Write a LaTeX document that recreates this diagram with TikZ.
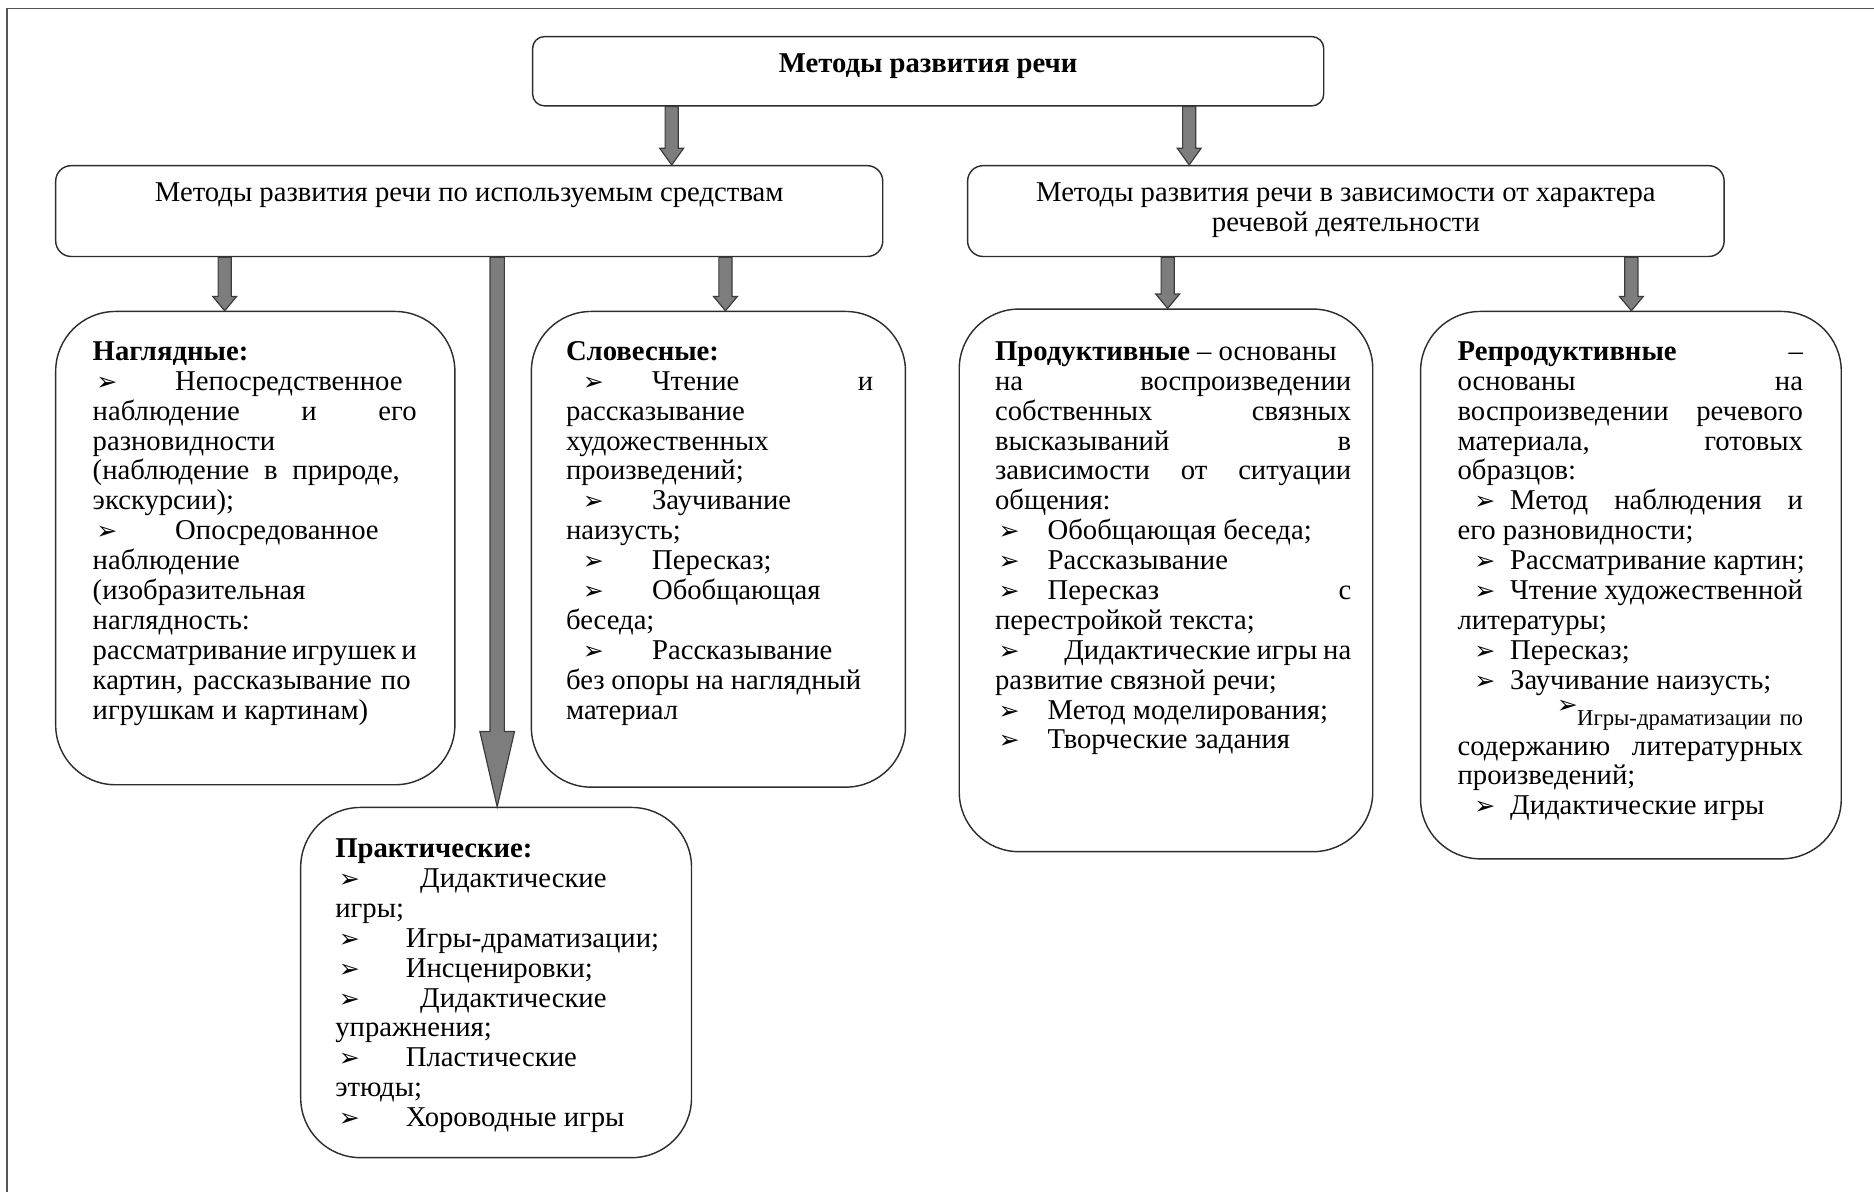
\documentclass[tikz,border=0pt]{standalone}
\usepackage{fontspec}
\setmainfont{Liberation Serif}
\newfontfamily\bulletfont{DejaVu Sans}
\usepackage{xcolor}
\usepackage{tikz}
\usetikzlibrary{calc}
\definecolor{boxline}{RGB}{45, 45, 45}
\definecolor{arrowfill}{RGB}{125, 125, 125}
\definecolor{arrowline}{RGB}{60, 60, 60}
\definecolor{framegray}{RGB}{85, 85, 85}

\newlength\padL
\newlength\padR
\newcommand\pads[2]{\setlength\padL{#1}\setlength\padR{#2}}
\newcommand\strutline{\vrule height 9pt depth 3.5pt width 0pt}
\newcommand\jline[1]{\hbox to\linewidth{\hskip\padL\strutline #1\hskip\padR}}
\newcommand\pline[1]{\hbox to\linewidth{\hskip\padL\strutline #1\hfil}}
\newcommand\mline[1]{\hbox to\linewidth{\hfil\strutline #1\hfil}}
\newcommand\arrowmark{{\bulletfont\fontsize{10.5}{10.5}\selectfont ➢}}
\newcommand\bul[2]{\hskip#1\makebox[#2][l]{\arrowmark}}

\tikzset{
  topbox/.style={draw=boxline, line width=0.6pt, rounded corners=5pt, inner sep=0pt, anchor=north west},
  midbox/.style={draw=boxline, line width=0.6pt, rounded corners=6.5pt, inner sep=0pt, anchor=north west},
  lowbox/.style={draw=boxline, line width=0.6pt, rounded corners=25pt, inner sep=0pt, anchor=north west},
  blockarrow/.style n args={3}{draw=arrowline, fill=arrowfill, line width=0.5pt,
    to path={let \p1=(\tikztostart), \p2=(\tikztotarget) in
      (\x1-#1,\y1) -- (\x1-#1,\y2+#3) -- (\x1-#2,\y2+#3) -- (\x1,\y2) -- (\x1+#2,\y2+#3) -- (\x1+#1,\y2+#3) -- (\x1+#1,\y1) -- cycle}},
}

\begin{document}
\begin{tikzpicture}[x=0.5pt, y=-0.5pt, font=\fontsize{12}{12.5}\selectfont]
    \useasboundingbox (0,0) rectangle (1568,997);
    \draw[framegray, line width=0.7pt] (6,997) -- (6,7) -- (1568,7);

    \node[topbox] (top) at (445,30) {
        \begin{minipage}[t][29pt][t]{331pt}
            \vspace*{6pt}
            \mline{\textbf{Методы развития речи}}
        \end{minipage}
    };
    \node[midbox] (means) at (46,138) {
        \begin{minipage}[t][38pt][t]{346pt}
            \vspace*{6pt}
            \mline{Методы развития речи по используемым средствам}
        \end{minipage}
    };
    \node[midbox] (activity) at (809,138) {
        \begin{minipage}[t][38pt][t]{316.5pt}
            \vspace*{6pt}
            \mline{Методы развития речи в зависимости от характера}
            \mline{речевой деятельности}
        \end{minipage}
    };

    \node[lowbox] (visual) at (46,260) {
        \begin{minipage}[t][198pt][t]{167pt}
            \pads{15.5pt}{16pt}
            \vspace*{11.5pt}
            \pline{\textbf{Наглядные:}}
            \pline{\bul{1.5pt}{33pt}Непосредственное}
            \jline{наблюдение и его}
            \pline{разновидности}
            \jline{(наблюдение в природе,\hskip7pt}
            \pline{экскурсии);}
            \pline{\bul{1.5pt}{33pt}Опосредованное}
            \pline{наблюдение}
            \pline{(изобразительная}
            \pline{наглядность:}
            \jline{рассматривание игрушек и}
            \jline{картин, рассказывание по\hskip2.5pt}
            \pline{игрушкам и картинам)}
        \end{minipage}
    };
    \node[lowbox] (verbal) at (444,260) {
        \begin{minipage}[t][199pt][t]{156.5pt}
            \pads{14.5pt}{13.5pt}
            \vspace*{11.5pt}
            \pline{\textbf{Словесные:}}
            \jline{\bul{7pt}{29pt}Чтение и}
            \pline{рассказывание}
            \pline{художественных}
            \pline{произведений;}
            \pline{\bul{7pt}{29pt}Заучивание}
            \pline{наизусть;}
            \pline{\bul{7pt}{29pt}Пересказ;}
            \pline{\bul{7pt}{29pt}Обобщающая}
            \pline{беседа;}
            \pline{\bul{7pt}{29pt}Рассказывание}
            \jline{без опоры на наглядный\hskip5pt}
            \pline{материал}
        \end{minipage}
    };
    \node[lowbox] (practical) at (251,675) {
        \begin{minipage}[t][146.5pt][t]{163.5pt}
            \pads{14.5pt}{14pt}
            \vspace*{12pt}
            \pline{\textbf{Практические:}}
            \pline{\bul{1.5pt}{34pt}Дидактические}
            \pline{игры;}
            \pline{\bul{1.5pt}{28pt}Игры-драматизации;}
            \pline{\bul{1.5pt}{28pt}Инсценировки;}
            \pline{\bul{1.5pt}{34pt}Дидактические}
            \pline{упражнения;}
            \pline{\bul{1.5pt}{28pt}Пластические}
            \pline{этюды;}
            \pline{\bul{1.5pt}{28pt}Хороводные игры}
        \end{minipage}
    };
    \node[lowbox] (productive) at (802,258) {
        \begin{minipage}[t][227pt][t]{173pt}
            \pads{15pt}{9pt}
            \vspace*{12.5pt}
            \pline{\textbf{Продуктивные} – основаны}
            \jline{на воспроизведении}
            \jline{собственных связных}
            \jline{высказываний в}
            \jline{зависимости от ситуации}
            \pline{общения:}
            \pline{\bul{1.5pt}{20.5pt}Обобщающая беседа;}
            \pline{\bul{1.5pt}{20.5pt}Рассказывание}
            \jline{\bul{1.5pt}{20.5pt}Пересказ с}
            \pline{перестройкой текста;}
            \jline{\bul{1.5pt}{27.5pt}Дидактические игры на}
            \pline{развитие связной речи;}
            \pline{\bul{1.5pt}{20.5pt}Метод моделирования;}
            \pline{\bul{1.5pt}{20.5pt}Творческие задания}
        \end{minipage}
    };
    \node[lowbox] (reproductive) at (1188,260) {
        \begin{minipage}[t][229pt][t]{176pt}
            \pads{15.5pt}{16pt}
            \vspace*{11.5pt}
            \jline{\textbf{Репродуктивные} –}
            \jline{основаны на}
            \jline{воспроизведении речевого}
            \jline{материала, готовых}
            \pline{образцов:}
            \jline{\bul{7pt}{15pt}Метод наблюдения и}
            \pline{его разновидности;}
            \pline{\bul{7pt}{15pt}Рассматривание картин;}
            \jline{\bul{7pt}{15pt}Чтение художественной}
            \pline{литературы;}
            \pline{\bul{7pt}{15pt}Пересказ;}
            \pline{\bul{7pt}{15pt}Заучивание наизусть;}
            \jline{\hskip41.5pt\makebox[8.5pt][l]{\raisebox{5pt}{\arrowmark}}{\fontsize{9.5}{9.5}\selectfont Игры-драматизации по}}
            \jline{содержанию литературных}
            \pline{произведений;}
            \pline{\bul{7pt}{15pt}Дидактические игры}
        \end{minipage}
    };

    \draw[blockarrow={2.75pt}{5pt}{7pt}] (562,0 |- top.south) to (562,0 |- means.north);
    \draw[blockarrow={2.75pt}{5pt}{7pt}] (995,0 |- top.south) to (995,0 |- activity.north);
    \draw[blockarrow={2.75pt}{5pt}{6pt}] (188,0 |- means.south) to (188,0 |- visual.north);
    \draw[blockarrow={3pt}{7.25pt}{31.5pt}] (416,0 |- means.south) to (416,0 |- practical.north);
    \draw[blockarrow={2.75pt}{5pt}{6pt}] (607,0 |- means.south) to (607,0 |- verbal.north);
    \draw[blockarrow={2.75pt}{5pt}{6pt}] (977,0 |- activity.south) to (977,0 |- productive.north);
    \draw[blockarrow={2.75pt}{5pt}{6pt}] (1365,0 |- activity.south) to (1365,0 |- reproductive.north);
\end{tikzpicture}
\end{document}
